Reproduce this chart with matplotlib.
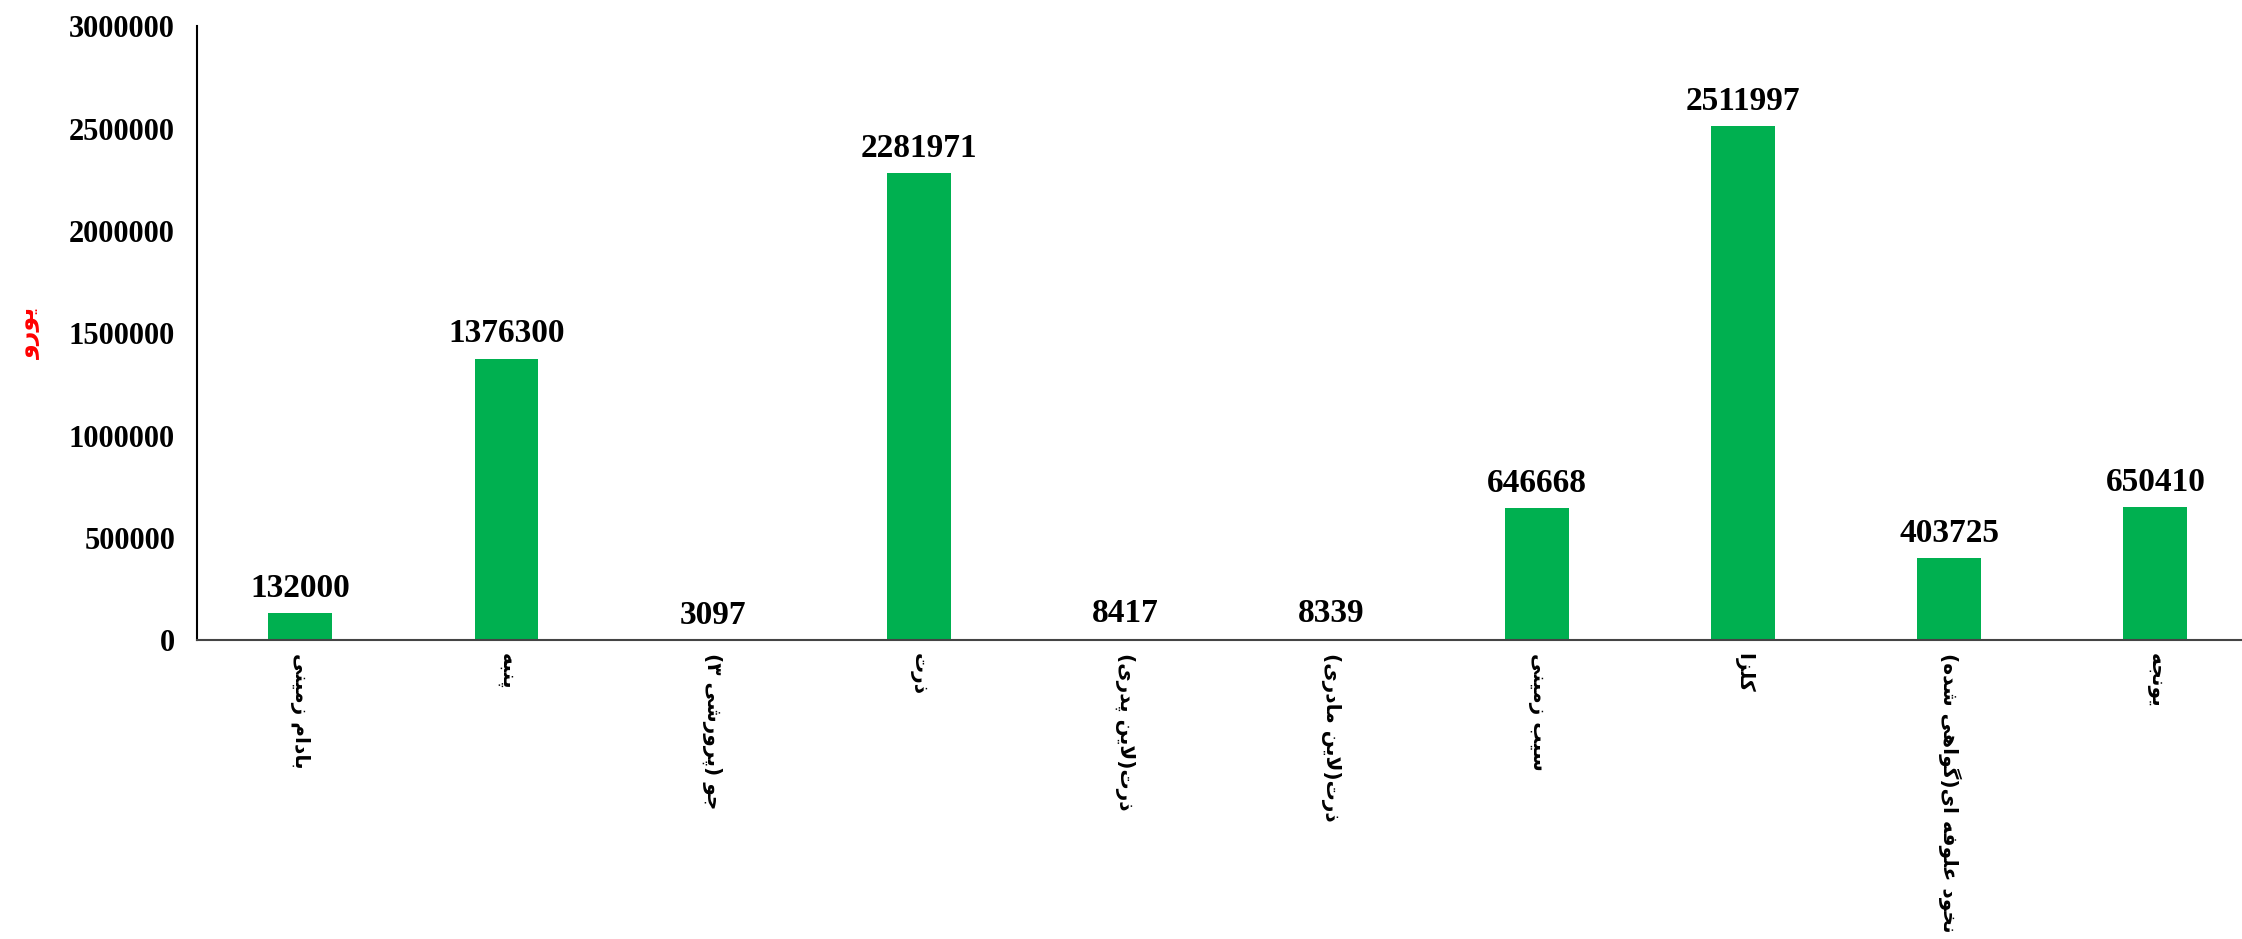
import matplotlib
matplotlib.use("Agg")
import matplotlib.pyplot as plt

categories = ["بادام زمینی", "پنبه", "جو (پرورشی ۳)", "ذرت", "ذرت(لاین پدری)",
              "ذرت(لاین مادری)", "سیب زمینی", "کلزا", "نخود علوفه ای(گواهی شده)", "یونجه"]
values = [132000, 1376300, 3097, 2281971, 8417, 8339, 646668, 2511997, 403725, 650410]
yticks = [0, 500000, 1000000, 1500000, 2000000, 2500000, 3000000]
ylabel = "یورو"

# Minimal Persian shaping (presentation forms) + visual reordering
FORMS = {
    'ا': (0xFE8D, 0xFE8E, None, None), 'ب': (0xFE8F, 0xFE90, 0xFE91, 0xFE92),
    'ت': (0xFE95, 0xFE96, 0xFE97, 0xFE98), 'ج': (0xFE9D, 0xFE9E, 0xFE9F, 0xFEA0),
    'خ': (0xFEA5, 0xFEA6, 0xFEA7, 0xFEA8), 'د': (0xFEA9, 0xFEAA, None, None),
    'ذ': (0xFEAB, 0xFEAC, None, None), 'ر': (0xFEAD, 0xFEAE, None, None),
    'ز': (0xFEAF, 0xFEB0, None, None), 'س': (0xFEB1, 0xFEB2, 0xFEB3, 0xFEB4),
    'ش': (0xFEB5, 0xFEB6, 0xFEB7, 0xFEB8), 'ع': (0xFEC9, 0xFECA, 0xFECB, 0xFECC),
    'ف': (0xFED1, 0xFED2, 0xFED3, 0xFED4), 'ل': (0xFEDD, 0xFEDE, 0xFEDF, 0xFEE0),
    'م': (0xFEE1, 0xFEE2, 0xFEE3, 0xFEE4), 'ن': (0xFEE5, 0xFEE6, 0xFEE7, 0xFEE8),
    'ه': (0xFEE9, 0xFEEA, 0xFEEB, 0xFEEC), 'و': (0xFEED, 0xFEEE, None, None),
    'پ': (0xFB56, 0xFB57, 0xFB58, 0xFB59), 'ک': (0xFB8E, 0xFB8F, 0xFB90, 0xFB91),
    'گ': (0xFB92, 0xFB93, 0xFB94, 0xFB95), 'ی': (0xFBFC, 0xFBFD, 0xFBFE, 0xFBFF),
}


def dual(c):
    return c in FORMS and FORMS[c][2] is not None


def shape(s):
    out = []
    i = 0
    n = len(s)
    while i < n:
        c = s[i]
        if c not in FORMS:
            out.append(c)
            i += 1
            continue
        prev = s[i - 1] if i > 0 else ''
        join_prev = dual(prev)
        if c == 'ل' and i + 1 < n and s[i + 1] == 'ا':
            out.append(chr(0xFEFC if join_prev else 0xFEFB))
            i += 2
            continue
        nxt = s[i + 1] if i + 1 < n else ''
        join_next = dual(c) and nxt in FORMS
        iso, fin, ini, med = FORMS[c]
        if join_prev and join_next:
            g = med
        elif join_prev:
            g = fin
        elif join_next:
            g = ini
        else:
            g = iso
        out.append(chr(g))
        i += 1
    vis = ''.join(reversed(out))
    vis = vis.translate(str.maketrans({'(': ')', ')': '('}))
    return vis


fig = plt.figure(figsize=(22.42, 9.39), dpi=100)
ax = fig.add_axes([0.088, 0.318, 0.912, 0.654])

x = list(range(len(categories)))
ax.bar(x, values, width=0.31, color="#00B050", zorder=2)

ax.set_ylim(0, 3000000)
ax.set_xlim(-0.5, 9.42)
ax.set_yticks(yticks)
ax.set_yticklabels([str(v) for v in yticks], fontfamily="Liberation Serif",
                   fontweight="bold", fontsize=22)
ax.tick_params(axis="y", length=0, pad=16)
ax.tick_params(axis="x", length=0, pad=9)
ax.set_xticks(x)
ax.set_xticklabels([shape(c) for c in categories], rotation=-90,
                   fontfamily="DejaVu Sans", fontweight="bold", fontsize=14.5,
                   va="top", ha="center")

for xi, v in zip(x, values):
    ax.text(xi, v + 45000, str(v), ha="center", va="bottom",
            fontfamily="Liberation Serif", fontweight="bold", fontsize=24)

ax.set_ylabel(shape(ylabel), color="#FF0000", fontfamily="DejaVu Sans",
              fontweight="bold", fontsize=17, labelpad=20)

for s in ["top", "right"]:
    ax.spines[s].set_visible(False)
ax.spines["left"].set_color("black")
ax.spines["left"].set_linewidth(1.5)
ax.spines["bottom"].set_color("#444444")
ax.spines["bottom"].set_linewidth(1.5)

fig.savefig("out.png", dpi=100)
